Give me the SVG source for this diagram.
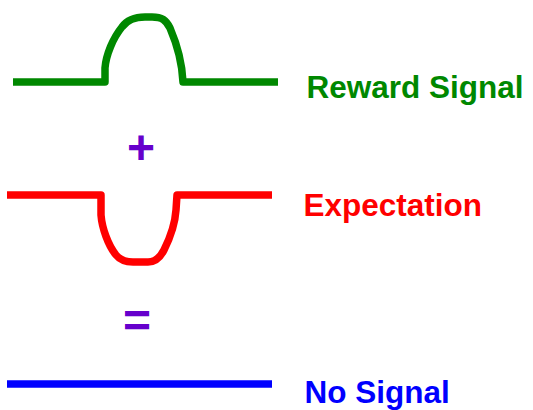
<svg xmlns="http://www.w3.org/2000/svg" width="533" height="410" viewBox="0 0 533 410">
<style>
.sig{fill:none;stroke-width:7.5;stroke-linejoin:round;stroke-linecap:butt}
.lbl{font-family:"Liberation Sans",Arial,sans-serif;font-weight:bold;font-size:31.5px}
.op{font-family:"Liberation Sans",Arial,sans-serif;font-weight:bold;font-size:48px;fill:#6600cc;text-anchor:middle}
</style>
<rect width="533" height="410" fill="#ffffff"/>
<g id="reward">
<path class="sig" stroke="#008800" d="M13,82 L105,82 L105,68 C106,55 113,38 122,27 C127,20 135,17 145,17 L152,17 C162,17 166,20 170,28 C176,42 182,60 183,82 L278,82"/>
<text class="lbl" x="306.5" y="97.5" fill="#008800">Reward Signal</text>
</g>
<g id="plus"><text class="op" x="141" y="164">+</text></g>
<g id="expectation">
<path class="sig" stroke="#ff0000" d="M7,195 L101,195 L101,215 C102,228 108,245 116,255 C120,260 125,262 133,262 L148,262 C155,262 160,258 164,250 C170,238 175,225 176,210 L177,195 L272,195"/>
<text class="lbl" x="303.5" y="216" fill="#ff0000">Expectation</text>
</g>
<g id="equals"><text class="op" x="137" y="337">=</text></g>
<g id="nosignal">
<path class="sig" stroke="#0000ff" d="M7,384 L272,384"/>
<text class="lbl" x="304.5" y="403" fill="#0000ff">No Signal</text>
</g>
</svg>
